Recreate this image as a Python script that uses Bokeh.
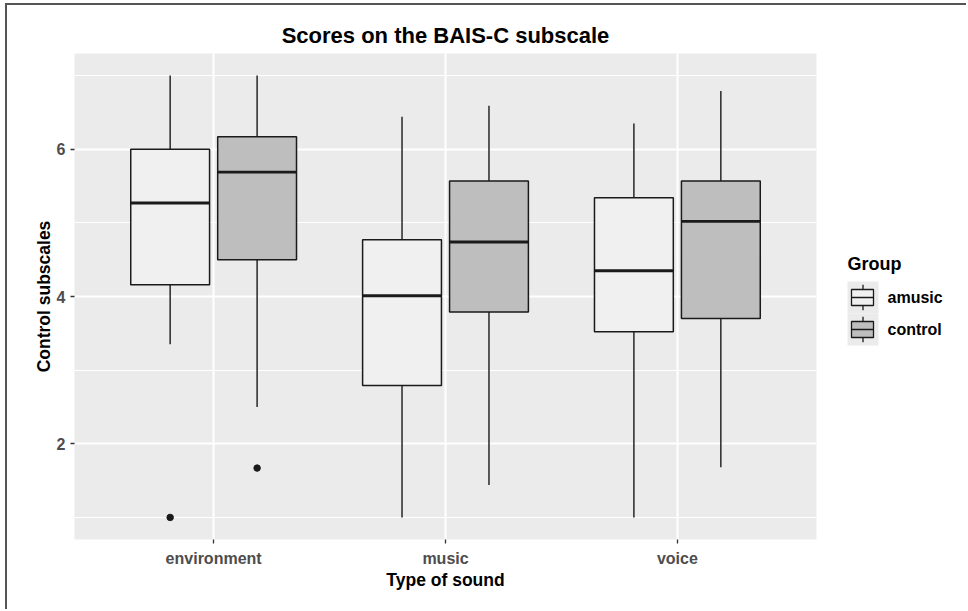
from bokeh.plotting import figure
from bokeh.models import ColumnDataSource, FactorRange, FixedTicker, Range1d
from bokeh.transform import dodge
from bokeh.layouts import row
from bokeh.core.properties import value
from bokeh.embed import file_html
from bokeh.resources import INLINE

# ---------------- data ----------------
sounds = ["environment", "music", "voice"]
groups = ["amusic", "control"]

amusic_low = [3.35, 1.00, 1.00]
amusic_q1 = [4.16, 2.79, 3.52]
amusic_med = [5.27, 4.01, 4.35]
amusic_q3 = [6.00, 4.77, 5.34]
amusic_high = [7.00, 6.44, 6.35]

control_low = [2.50, 1.44, 1.68]
control_q1 = [4.50, 3.79, 3.70]
control_med = [5.69, 4.74, 5.02]
control_q3 = [6.17, 5.57, 5.57]
control_high = [7.00, 6.59, 6.79]

outlier_sound = ["environment", "environment"]
outlier_group = ["amusic", "control"]
outlier_value = [1.00, 1.67]

y_ticks = [2, 4, 6]
y_minor_ticks = [1, 3, 5, 7]

# ---------------- styling ----------------
FONT = "Liberation Sans"
PANEL_BG = "#ebebeb"
FILLS = {"amusic": "#f0f0f0", "control": "#bebebe"}
OFFSETS = {"amusic": -0.1875, "control": 0.1875}
BOX_W = 0.34
LINE_C = "#1a1a1a"

FIG_H = 604
B_TOP, B_BOTTOM = 48, 70
ORIGIN_X, ORIGIN_Y = 7, 5          # where the row content starts on the page
MAIN_W = 813

p = figure(
    width=MAIN_W, height=FIG_H,
    x_range=FactorRange(*sounds, range_padding=0.2 / 3, range_padding_units="percent"),
    y_range=Range1d(0.7, 7.3),
    output_backend="svg", toolbar_location=None,
    title="Scores on the BAIS-C subscale",
    min_border_left=67, min_border_top=B_TOP, min_border_right=4, min_border_bottom=B_BOTTOM,
    x_axis_label="Type of sound", y_axis_label="Control subscales",
)
p.background_fill_color = PANEL_BG
p.border_fill_color = "white"
p.outline_line_color = None

p.title.align = "center"
p.title.text_font = FONT
p.title.text_font_size = "22px"
p.title.text_font_style = "bold"
p.title.text_color = "black"
p.title.standoff = 12

yt = FixedTicker(ticks=y_ticks, minor_ticks=y_minor_ticks)
p.yaxis.ticker = yt
p.ygrid.ticker = yt

for ax in (p.xaxis, p.yaxis):
    ax.axis_line_color = None
    ax.major_tick_line_color = "#333333"
    ax.major_tick_line_width = 1.3
    ax.major_tick_in = 0
    ax.major_tick_out = 4
    ax.minor_tick_line_color = None
    ax.major_label_text_font = FONT
    ax.major_label_text_font_style = "bold"
    ax.major_label_text_font_size = "16px"
    ax.major_label_text_color = "#4d4d4d"
    ax.axis_label_text_font = FONT
    ax.axis_label_text_font_style = "bold"
    ax.axis_label_text_font_size = "17.5px"
    ax.axis_label_text_color = "black"
p.xaxis.major_label_standoff = 6
p.xaxis.axis_label_standoff = 0
p.yaxis.major_label_standoff = 5
p.yaxis.axis_label_standoff = 0

p.xgrid.grid_line_color = "white"
p.xgrid.grid_line_width = 2
p.ygrid.grid_line_color = "white"
p.ygrid.grid_line_width = 2
p.ygrid.minor_grid_line_color = "white"
p.ygrid.minor_grid_line_width = 1

series = {
    "amusic": (amusic_low, amusic_q1, amusic_med, amusic_q3, amusic_high),
    "control": (control_low, control_q1, control_med, control_q3, control_high),
}

for grp in groups:
    low, q1, med, q3, high = series[grp]
    off = OFFSETS[grp]
    src = ColumnDataSource(dict(sound=sounds, low=low, q1=q1, med=med, q3=q3, high=high))
    xd = dodge("sound", off, range=p.x_range)
    p.segment(x0=xd, y0="low", x1=xd, y1="q1", source=src, line_color=LINE_C, line_width=1.4)
    p.segment(x0=xd, y0="q3", x1=xd, y1="high", source=src, line_color=LINE_C, line_width=1.4)
    p.vbar(x=xd, width=BOX_W, bottom="q1", top="q3", source=src,
           fill_color=FILLS[grp], line_color=LINE_C, line_width=1.5)
    p.segment(x0=dodge("sound", off - BOX_W / 2, range=p.x_range), y0="med",
              x1=dodge("sound", off + BOX_W / 2, range=p.x_range), y1="med",
              source=src, line_color=LINE_C, line_width=2.8)
    o_s = [s for s, g in zip(outlier_sound, outlier_group) if g == grp]
    o_v = [v for v, g in zip(outlier_value, outlier_group) if g == grp]
    osrc = ColumnDataSource(dict(sound=o_s, val=o_v))
    p.scatter(x=xd, y="val", source=osrc, size=6.5, fill_color=LINE_C, line_color=LINE_C)

# ---------------- legend panel (coordinates = page pixels) ----------------
LEG_W = 146
leg_x0 = ORIGIN_X + MAIN_W
frame_top = ORIGIN_Y + B_TOP
frame_bottom = ORIGIN_Y + FIG_H - B_BOTTOM
leg = figure(
    width=LEG_W, height=FIG_H,
    x_range=Range1d(leg_x0, leg_x0 + LEG_W), y_range=Range1d(frame_bottom, frame_top),
    output_backend="svg", toolbar_location=None,
    x_axis_type=None, y_axis_type=None,
    min_border_left=0, min_border_right=0, min_border_top=B_TOP, min_border_bottom=B_BOTTOM,
)
leg.outline_line_color = None
leg.background_fill_color = "white"
leg.border_fill_color = "white"
leg.grid.visible = False

KEY_X0, KEY_W, KEY_H = 847, 31, 32
key_tops = [281, 313]
kx = [KEY_X0 + KEY_W / 2] * 2
ksrc = ColumnDataSource(dict(
    left=[KEY_X0] * 2, right=[KEY_X0 + KEY_W] * 2,
    top=key_tops, bottom=[t + KEY_H for t in key_tops],
    cx=kx,
    w0=[t + 0.1 * KEY_H for t in key_tops], w1=[t + 0.9 * KEY_H for t in key_tops],
    b0=[t + 0.25 * KEY_H for t in key_tops], b1=[t + 0.75 * KEY_H for t in key_tops],
    m=[t + 0.5 * KEY_H for t in key_tops],
    bl=[KEY_X0 + 4] * 2, br=[KEY_X0 + 26] * 2,
    fill=[FILLS[g] for g in groups], label=groups,
    tx=[887] * 2,
))
leg.quad(left="left", right="right", top="top", bottom="bottom", source=ksrc,
         fill_color=PANEL_BG, line_color=None)
leg.segment(x0="cx", y0="w0", x1="cx", y1="w1", source=ksrc, line_color=LINE_C, line_width=1.3)
leg.quad(left="bl", right="br", top="b0", bottom="b1", source=ksrc,
         fill_color="fill", line_color=LINE_C, line_width=1.3)
leg.segment(x0="bl", y0="m", x1="br", y1="m", source=ksrc, line_color=LINE_C, line_width=1.3)
leg.text(x="tx", y="m", text="label", source=ksrc,
         text_font=value(FONT), text_font_style="bold", text_font_size="16px",
         text_baseline="middle", text_align="left", text_color="black")
leg.text(x=[847], y=[263], text=["Group"],
         text_font=value(FONT), text_font_style="bold", text_font_size="18px",
         text_baseline="middle", text_align="left", text_color="black")

layout = row(p, leg, styles={
    "margin-left": "5px", "margin-top": "3px",
    "border-top": "2px solid #555555", "border-left": "2px solid #555555",
})

open("out.html", "w").write(file_html(layout, INLINE))
